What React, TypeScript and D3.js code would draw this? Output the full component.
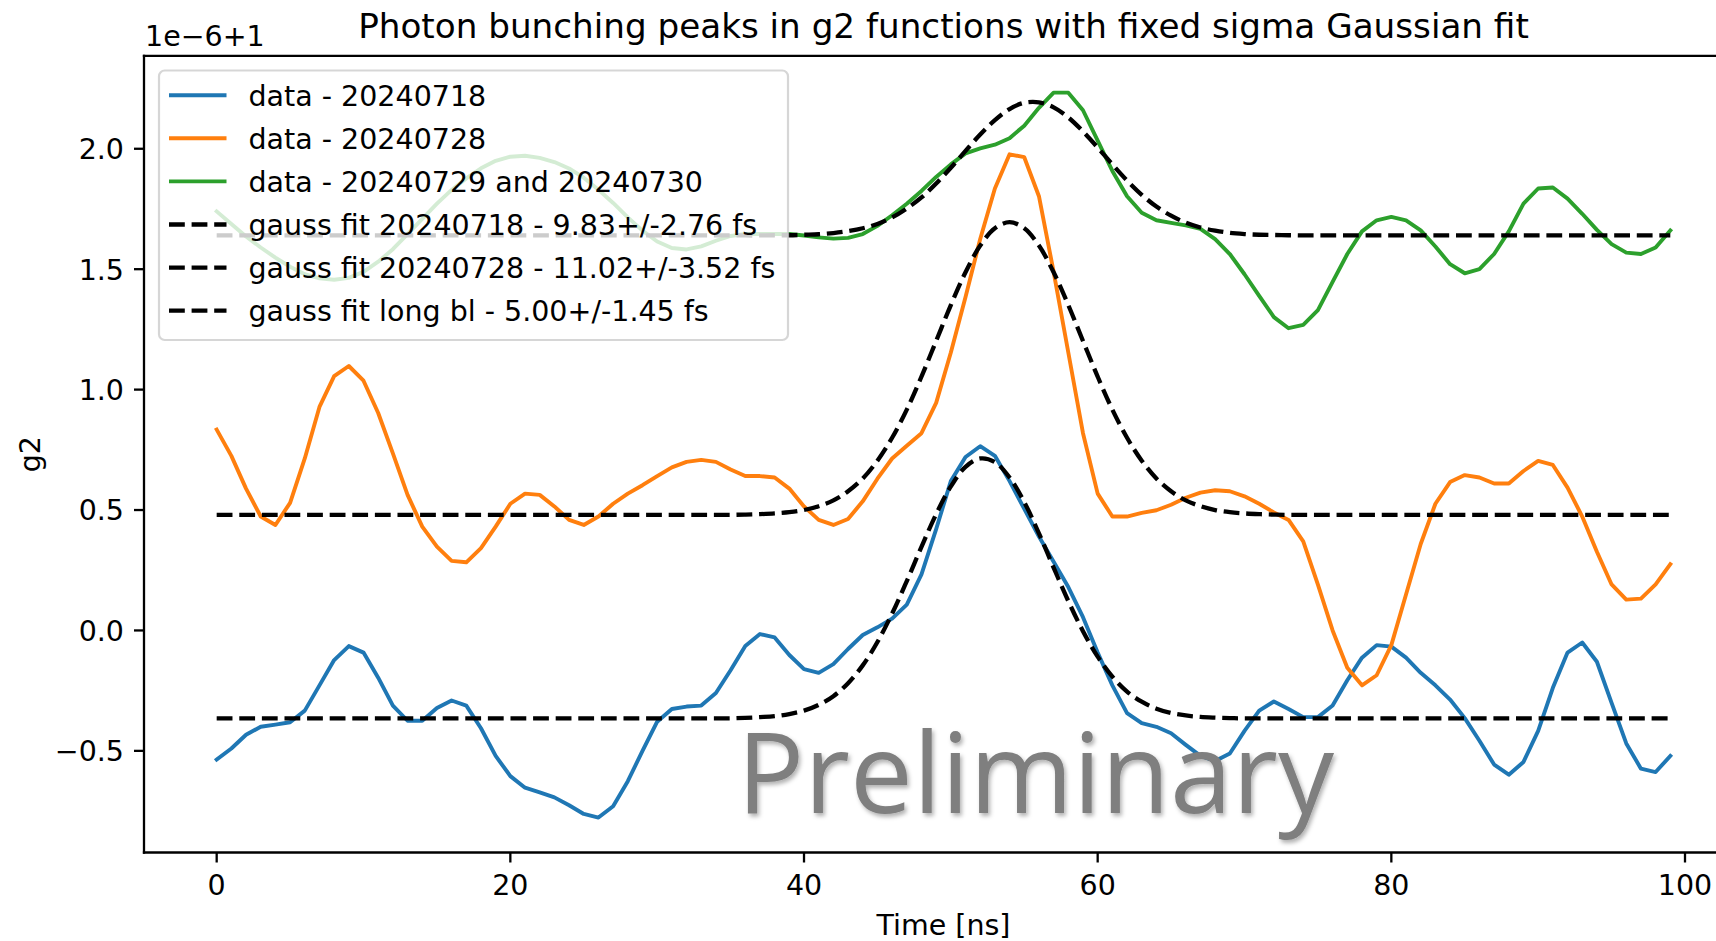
import React from 'react';
import * as d3 from 'd3';

// ---------------- data (values in units of 1e-6, offset +1) ----------------
const TIME_NS: number[] = d3.range(0, 100);

const DATA_20240718: number[] = [
  -0.536, -0.490, -0.433, -0.400, -0.391, -0.381, -0.333, -0.228, -0.123, -0.065,
  -0.092, -0.196, -0.312, -0.375, -0.375, -0.322, -0.291, -0.312, -0.406, -0.521,
  -0.605, -0.653, -0.672, -0.693, -0.726, -0.762, -0.777, -0.730, -0.626, -0.500,
  -0.379, -0.326, -0.316, -0.312, -0.260, -0.165, -0.065, -0.015, -0.029, -0.102,
  -0.161, -0.176, -0.140, -0.077, -0.019, 0.013, 0.049, 0.107, 0.233, 0.421,
  0.620, 0.720, 0.765, 0.725, 0.620, 0.505, 0.390, 0.285, 0.180, 0.055,
  -0.092, -0.228, -0.343, -0.385, -0.400, -0.427, -0.475, -0.521, -0.542, -0.511,
  -0.417, -0.333, -0.295, -0.326, -0.360, -0.360, -0.312, -0.207, -0.113, -0.061,
  -0.067, -0.113, -0.176, -0.228, -0.287, -0.364, -0.458, -0.557, -0.599, -0.546,
  -0.417, -0.238, -0.092, -0.050, -0.130, -0.301, -0.469, -0.574, -0.588, -0.521,
];

const DATA_20240728: number[] = [
  0.834, 0.725, 0.589, 0.473, 0.438, 0.530, 0.714, 0.928, 1.056, 1.098,
  1.037, 0.903, 0.735, 0.563, 0.431, 0.348, 0.289, 0.283, 0.342, 0.431,
  0.526, 0.568, 0.563, 0.515, 0.459, 0.438, 0.473, 0.526, 0.568, 0.603,
  0.641, 0.677, 0.700, 0.708, 0.700, 0.668, 0.641, 0.641, 0.635, 0.589,
  0.515, 0.459, 0.438, 0.463, 0.536, 0.630, 0.714, 0.767, 0.819, 0.945,
  1.154, 1.385, 1.625, 1.835, 1.977, 1.965, 1.803, 1.489, 1.154, 0.819,
  0.568, 0.473, 0.473, 0.488, 0.499, 0.522, 0.551, 0.572, 0.582, 0.578,
  0.557, 0.526, 0.490, 0.459, 0.370, 0.190, 0.000, -0.155, -0.228, -0.186,
  -0.061, 0.149, 0.359, 0.526, 0.616, 0.645, 0.635, 0.610, 0.610, 0.662,
  0.704, 0.687, 0.593, 0.473, 0.327, 0.191, 0.128, 0.132, 0.191, 0.275,
];

const DATA_20240729_30: number[] = [
  1.740, 1.688, 1.636, 1.590, 1.548, 1.510, 1.479, 1.462, 1.456, 1.464,
  1.489, 1.531, 1.583, 1.646, 1.709, 1.772, 1.829, 1.877, 1.919, 1.950,
  1.967, 1.971, 1.962, 1.945, 1.918, 1.880, 1.830, 1.775, 1.715, 1.660,
  1.615, 1.588, 1.582, 1.595, 1.618, 1.638, 1.646, 1.646, 1.646, 1.646,
  1.640, 1.632, 1.627, 1.630, 1.646, 1.680, 1.724, 1.772, 1.825, 1.883,
  1.935, 1.981, 2.002, 2.017, 2.044, 2.096, 2.170, 2.233, 2.233, 2.160,
  2.034, 1.908, 1.803, 1.734, 1.703, 1.692, 1.682, 1.667, 1.625, 1.563,
  1.479, 1.389, 1.301, 1.255, 1.269, 1.330, 1.447, 1.563, 1.657, 1.703,
  1.717, 1.703, 1.661, 1.594, 1.521, 1.483, 1.500, 1.563, 1.657, 1.772,
  1.835, 1.839, 1.793, 1.730, 1.663, 1.604, 1.569, 1.563, 1.590, 1.661,
];

const FIT_20240718: number[] = [
  -0.365, -0.365, -0.365, -0.365, -0.365, -0.365, -0.365, -0.365, -0.365, -0.365,
  -0.365, -0.365, -0.365, -0.365, -0.365, -0.365, -0.365, -0.365, -0.365, -0.365,
  -0.365, -0.365, -0.365, -0.365, -0.365, -0.365, -0.365, -0.365, -0.365, -0.365,
  -0.365, -0.365, -0.365, -0.365, -0.365, -0.365, -0.363, -0.360, -0.356, -0.347,
  -0.333, -0.309, -0.273, -0.219, -0.145, -0.048, 0.070, 0.205, 0.347, 0.483,
  0.598, 0.679, 0.714, 0.699, 0.635, 0.533, 0.403, 0.261, 0.122, -0.003,
  -0.109, -0.192, -0.254, -0.296, -0.325, -0.343, -0.353, -0.359, -0.362, -0.364,
  -0.365, -0.365, -0.365, -0.365, -0.365, -0.365, -0.365, -0.365, -0.365, -0.365,
  -0.365, -0.365, -0.365, -0.365, -0.365, -0.365, -0.365, -0.365, -0.365, -0.365,
  -0.365, -0.365, -0.365, -0.365, -0.365, -0.365, -0.365, -0.365, -0.365, -0.365,
];

const FIT_20240728: number[] = [
  0.480, 0.480, 0.480, 0.480, 0.480, 0.480, 0.480, 0.480, 0.480, 0.480,
  0.480, 0.480, 0.480, 0.480, 0.480, 0.480, 0.480, 0.480, 0.480, 0.480,
  0.480, 0.480, 0.480, 0.480, 0.480, 0.480, 0.480, 0.480, 0.480, 0.480,
  0.480, 0.480, 0.480, 0.480, 0.480, 0.480, 0.481, 0.483, 0.486, 0.491,
  0.500, 0.516, 0.540, 0.578, 0.631, 0.705, 0.800, 0.917, 1.054, 1.202,
  1.351, 1.487, 1.598, 1.670, 1.695, 1.670, 1.598, 1.487, 1.351, 1.202,
  1.054, 0.917, 0.800, 0.705, 0.631, 0.578, 0.540, 0.516, 0.500, 0.491,
  0.486, 0.483, 0.481, 0.480, 0.480, 0.480, 0.480, 0.480, 0.480, 0.480,
  0.480, 0.480, 0.480, 0.480, 0.480, 0.480, 0.480, 0.480, 0.480, 0.480,
  0.480, 0.480, 0.480, 0.480, 0.480, 0.480, 0.480, 0.480, 0.480, 0.480,
];

const FIT_LONG_BL: number[] = [
  1.640, 1.640, 1.640, 1.640, 1.640, 1.640, 1.640, 1.640, 1.640, 1.640,
  1.640, 1.640, 1.640, 1.640, 1.640, 1.640, 1.640, 1.640, 1.640, 1.640,
  1.640, 1.640, 1.640, 1.640, 1.640, 1.640, 1.640, 1.640, 1.640, 1.640,
  1.640, 1.640, 1.640, 1.640, 1.640, 1.640, 1.640, 1.640, 1.641, 1.641,
  1.643, 1.645, 1.650, 1.658, 1.670, 1.688, 1.715, 1.752, 1.798, 1.856,
  1.921, 1.991, 2.059, 2.119, 2.165, 2.191, 2.193, 2.172, 2.130, 2.072,
  2.005, 1.935, 1.868, 1.809, 1.760, 1.722, 1.693, 1.673, 1.660, 1.651,
  1.646, 1.643, 1.642, 1.641, 1.640, 1.640, 1.640, 1.640, 1.640, 1.640,
  1.640, 1.640, 1.640, 1.640, 1.640, 1.640, 1.640, 1.640, 1.640, 1.640,
  1.640, 1.640, 1.640, 1.640, 1.640, 1.640, 1.640, 1.640, 1.640, 1.640,
];

const X_TICKS: number[] = [0, 20, 40, 60, 80, 100];
const Y_TICKS: number[] = [-0.5, 0.0, 0.5, 1.0, 1.5, 2.0];

const SERIES_LABELS: string[] = [
  'data - 20240718',
  'data - 20240728',
  'data - 20240729 and 20240730',
];
const FIT_LABELS: string[] = [
  'gauss fit 20240718 - 9.83+/-2.76 fs',
  'gauss fit 20240728 - 11.02+/-3.52 fs',
  'gauss fit long bl - 5.00+/-1.45 fs',
];
const SERIES_COLORS: string[] = ['#1f77b4', '#ff7f0e', '#2ca02c'];

const TITLE = 'Photon bunching peaks in g2 functions with fixed sigma Gaussian fit';
const X_LABEL = 'Time [ns]';
const Y_LABEL = 'g2';
const OFFSET_TEXT = '1e\u22126+1';
const WATERMARK = 'Preliminary';

// ---------------- layout ----------------
const W = 1716;
const H = 941;
const AX = { left: 144, right: 1743, top: 55.8, bottom: 852.5 };
const X_DOMAIN: [number, number] = [-4.95, 103.95];
const Y_DOMAIN: [number, number] = [-0.922, 2.386];
const FONT = "'DejaVu Sans', sans-serif";
const FS = 28.5;
const TITLE_FS = 34.2;
const LW = 3.9;
const DASH = '15.8 6.8';

export default function App() {
  const x = d3.scaleLinear().domain(X_DOMAIN).range([AX.left, AX.right]);
  const y = d3.scaleLinear().domain(Y_DOMAIN).range([AX.bottom, AX.top]);

  const dataLine = d3
    .line<number>()
    .x((_, i) => x(TIME_NS[i]))
    .y((v) => y(v));
  const fitLine = d3
    .line<number>()
    .curve(d3.curveCatmullRom)
    .x((_, i) => x(TIME_NS[i]))
    .y((v) => y(v));

  const fmtY = d3.format('.1f');
  const fmtX = d3.format('d');

  const dataSeries = [DATA_20240718, DATA_20240728, DATA_20240729_30];
  const fitSeries = [FIT_20240718, FIT_20240728, FIT_LONG_BL];

  // legend geometry
  const LG = { x: 159, y: 70.5, w: 629, h: 269.5 };
  const rowY = (i: number) => 95.2 + i * 43.1;
  const handleX0 = 169;
  const handleX1 = 226.5;
  const textX = 248.5;

  const legendItems = [
    ...SERIES_LABELS.map((l, i) => ({ label: l, color: SERIES_COLORS[i], dashed: false })),
    ...FIT_LABELS.map((l) => ({ label: l, color: '#000000', dashed: true })),
  ];

  return (
    <svg
      width={W}
      height={H}
      viewBox={`0 0 ${W} ${H}`}
      style={{ position: 'absolute', left: 0, top: 0, display: 'block', background: '#ffffff' }}
      fontFamily={FONT}
    >
      <defs>
        <filter id="wmShadow" x="-5%" y="-20%" width="115%" height="150%">
          <feDropShadow dx="2" dy="3" stdDeviation="2" floodColor="#000000" floodOpacity="0.3" />
        </filter>
        <clipPath id="axClip">
          <rect x={AX.left} y={AX.top} width={AX.right - AX.left} height={AX.bottom - AX.top} />
        </clipPath>
      </defs>
      <rect x={0} y={0} width={W} height={H} fill="#ffffff" />

      {/* data lines */}
      <g clipPath="url(#axClip)">
        {dataSeries.map((s, i) => (
          <path
            key={`d${i}`}
            d={dataLine(s) || ''}
            fill="none"
            stroke={SERIES_COLORS[i]}
            strokeWidth={LW}
            strokeLinejoin="round"
            strokeLinecap="square"
          />
        ))}
        {fitSeries.map((s, i) => (
          <path
            key={`f${i}`}
            d={fitLine(s) || ''}
            fill="none"
            stroke="#000000"
            strokeWidth={LW + 0.4}
            strokeDasharray={DASH}
          />
        ))}
      </g>

      {/* spines */}
      <g stroke="#000000" strokeWidth={2.3} fill="none" strokeLinecap="square">
        <line x1={AX.left} y1={AX.top} x2={AX.left} y2={AX.bottom} />
        <line x1={AX.left} y1={AX.bottom} x2={AX.right} y2={AX.bottom} />
        <line x1={AX.left} y1={AX.top} x2={AX.right} y2={AX.top} />
        <line x1={AX.right} y1={AX.top} x2={AX.right} y2={AX.bottom} />
      </g>

      {/* x ticks */}
      {X_TICKS.map((t) => (
        <g key={`xt${t}`}>
          <line x1={x(t)} x2={x(t)} y1={AX.bottom} y2={AX.bottom + 10} stroke="#000" strokeWidth={2.3} />
          <text x={x(t)} y={894.5} fontSize={FS} textAnchor="middle" fill="#000">
            {fmtX(t)}
          </text>
        </g>
      ))}

      {/* y ticks */}
      {Y_TICKS.map((t) => (
        <g key={`yt${t}`}>
          <line x1={AX.left - 10} x2={AX.left} y1={y(t)} y2={y(t)} stroke="#000" strokeWidth={2.3} />
          <text x={AX.left - 20} y={y(t) + 10.4} fontSize={FS} textAnchor="end" fill="#000">
            {fmtY(t)}
          </text>
        </g>
      ))}

      {/* offset text */}
      <text x={145} y={46} fontSize={FS} fill="#000">
        {OFFSET_TEXT}
      </text>

      {/* title */}
      <text x={(AX.left + AX.right) / 2} y={38} fontSize={TITLE_FS} textAnchor="middle" fill="#000">
        {TITLE}
      </text>

      {/* axis labels */}
      <text x={(AX.left + AX.right) / 2} y={935} fontSize={FS} textAnchor="middle" fill="#000">
        {X_LABEL}
      </text>
      <text
        transform={`translate(40, ${(AX.top + AX.bottom) / 2}) rotate(-90)`}
        fontSize={FS}
        textAnchor="middle"
        fill="#000"
      >
        {Y_LABEL}
      </text>

      {/* legend */}
      <g>
        <rect
          x={LG.x}
          y={LG.y}
          width={LG.w}
          height={LG.h}
          rx={5.7}
          ry={5.7}
          fill="#ffffff"
          fillOpacity={0.8}
          stroke="#cccccc"
          strokeOpacity={0.8}
          strokeWidth={2.2}
        />
        {legendItems.map((it, i) => (
          <g key={`lg${i}`}>
            <line
              x1={handleX0}
              x2={handleX1}
              y1={rowY(i)}
              y2={rowY(i)}
              stroke={it.color}
              strokeWidth={it.dashed ? LW + 0.4 : LW}
              strokeDasharray={it.dashed ? DASH : undefined}
            />
            <text x={textX} y={rowY(i) + 10.4} fontSize={FS} fill="#000">
              {it.label}
            </text>
          </g>
        ))}
      </g>

      {/* watermark */}
      <text
        x={737}
        y={813}
        fontFamily="'Open Sans', 'Liberation Sans', sans-serif"
        fontSize={112}
        fill="#7f7f7f"
        textLength={597}
        lengthAdjust="spacingAndGlyphs"
        filter="url(#wmShadow)"
      >
        {WATERMARK}
      </text>
    </svg>
  );
}
